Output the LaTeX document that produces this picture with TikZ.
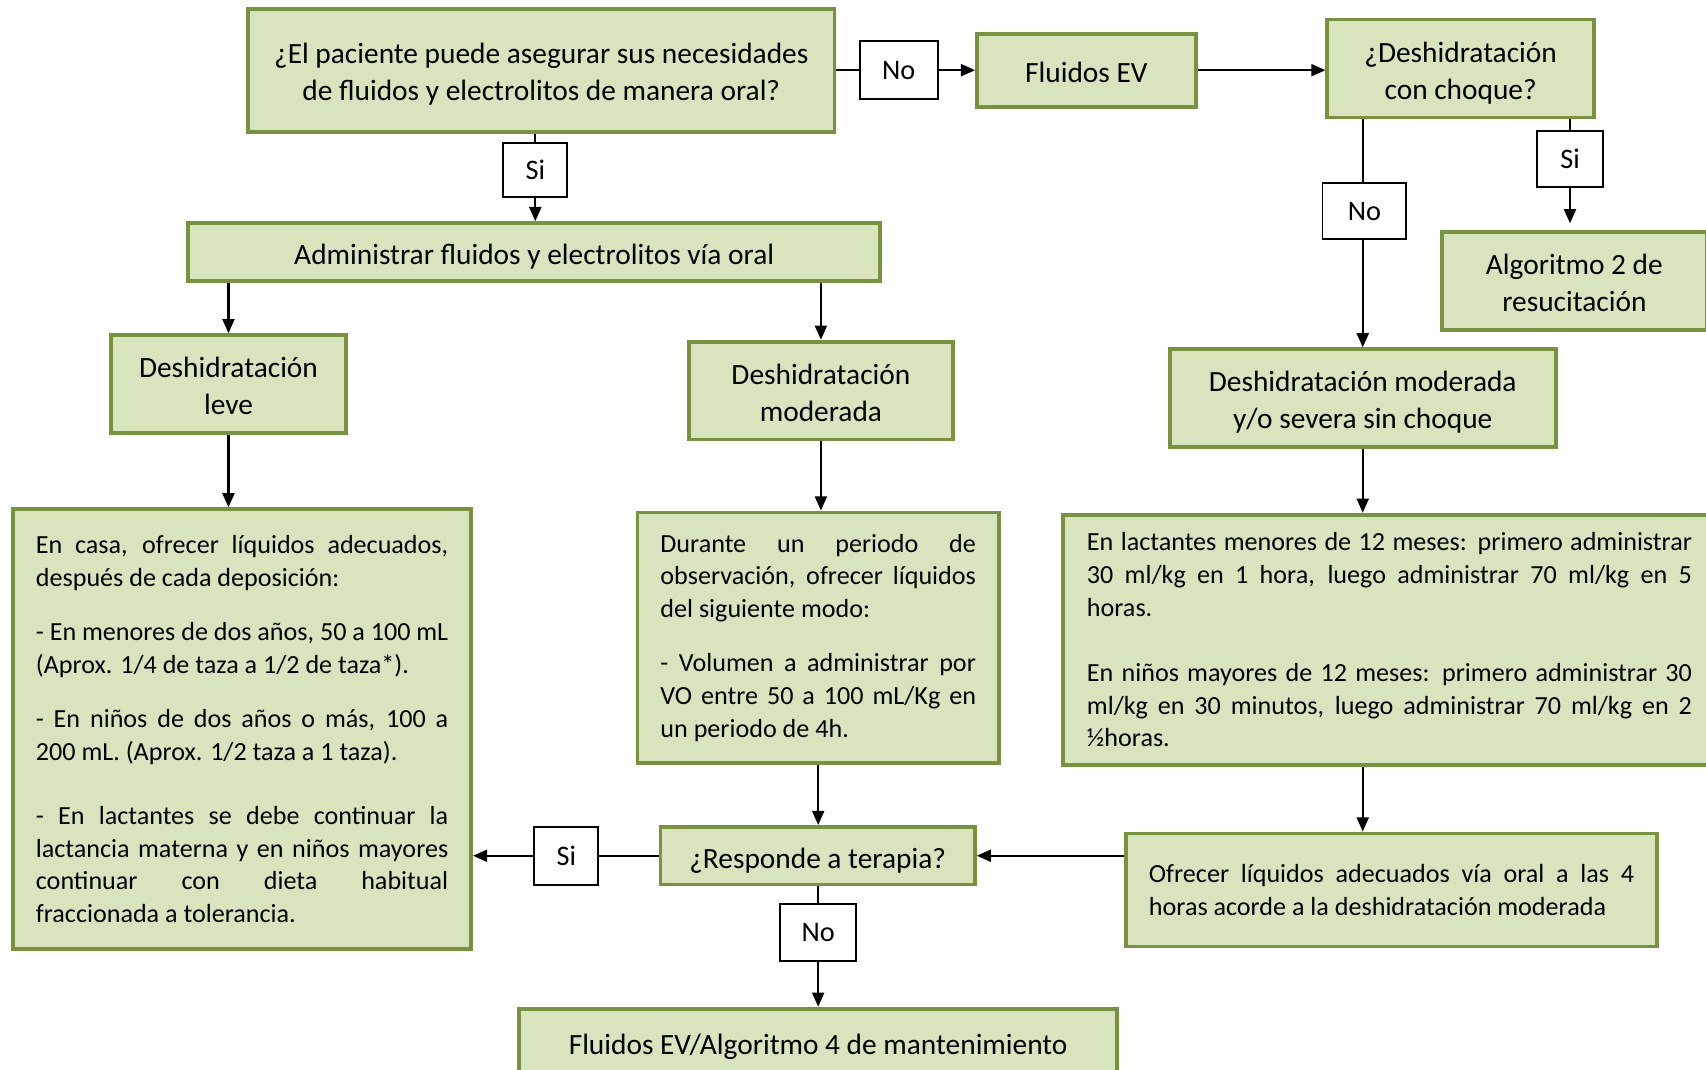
\documentclass[tikz,border=0pt]{standalone}
\usepackage{fontspec}
\setmainfont{Carlito}
\usetikzlibrary{arrows.meta}
\definecolor{gfill}{HTML}{D7E4BD}
\definecolor{gborder}{HTML}{77933C}
\hyphenpenalty=10000
\exhyphenpenalty=10000
\tolerance=10000
\begin{document}
\begin{tikzpicture}[x=1pt,y=-1pt,
  gbox/.style={draw=gborder, fill=gfill, line width=3.5pt, inner sep=0pt,
    font=\fontsize{27}{34}\selectfont, align=center},
  gone/.style={gbox, text height=28pt, text depth=5pt},
  gtwo/.style={gbox, text height=60pt, text depth=4pt},
  body/.style={draw=gborder, fill=gfill, line width=3.5pt, inner ysep=0pt,
    font=\fontsize{24}{30}\selectfont, align=justify},
  lbl/.style={draw=black, fill=white, line width=1.8pt, inner sep=0pt,
    font=\fontsize{26}{30}\selectfont},
  ln/.style={line width=2pt},
  arr/.style={line width=2pt, -{Triangle[length=13pt,width=11pt]}}]
\useasboundingbox[fill=white] (0,0) rectangle (1568,983);

% top row
\node[gtwo, minimum width=539pt, minimum height=113pt] (q1) at (497.5,64.5)
  {¿El paciente puede asegurar sus necesidades\\de fluidos y electrolitos de manera oral?};
\node[lbl, minimum width=72pt, minimum height=53pt] (no1) at (826,64.5) {No};
\node[gone, minimum width=201pt, minimum height=67pt] (fev) at (998.5,64.5) {Fluidos EV};
\node[gtwo, minimum width=245pt, minimum height=90pt] (q2) at (1342.5,63) {¿Deshidratación\\con choque?};
\node[lbl, minimum width=77pt, minimum height=52pt] (no2) at (1254,194) {No};
\node[lbl, minimum width=61pt, minimum height=52pt] (si2) at (1443,146) {Si};
\node[gtwo, minimum width=244pt, minimum height=90pt] (alg2) at (1447,258) {Algoritmo 2 de\\resucitación};

% second row
\node[lbl, minimum width=59pt, minimum height=50pt] (si1) at (492,156) {Si};
\node[gone, minimum width=636pt, minimum height=53pt] (admin) at (491,231.5) {Administrar fluidos y electrolitos vía oral};
\node[gtwo, minimum width=216pt, minimum height=90pt] (leve) at (210,353) {Deshidratación\\leve};
\node[gtwo, minimum width=243pt, minimum height=90pt] (mod) at (754.5,359) {Deshidratación\\moderada};
\node[gtwo, minimum width=355pt, minimum height=90pt] (modsev) at (1252.5,366) {Deshidratación moderada\\y/o severa sin choque};

% body boxes
\node[body, text width=379pt, inner xsep=21pt, minimum height=404pt] (lbody) at (222.5,670)
  {En casa, ofrecer líquidos adecuados,\linebreak después de cada deposición:\par\vspace{20pt}
   - En menores de dos años, 50 a 100 mL\linebreak (Aprox. 1/4 de taza a 1/2 de taza*).\par\vspace{20pt}
   - En niños de dos años o más, 100 a\linebreak 200 mL. (Aprox. 1/2 taza a 1 taza).\par\vspace{29pt}
   - En lactantes se debe continuar la\linebreak lactancia materna y en niños mayores\linebreak continuar con dieta habitual\linebreak fraccionada a tolerancia.};
\node[body, text width=290pt, inner xsep=21pt, minimum height=230pt] (mbody) at (752,586)
  {Durante un periodo de\linebreak observación, ofrecer líquidos\linebreak del siguiente modo:\par\vspace{20pt}
   - Volumen a administrar por\linebreak VO entre 50 a 100 mL/Kg en\linebreak un periodo de 4h.};
\node[body, text width=556pt, inner xsep=22pt, minimum height=230pt] (rbody) at (1277,588)
  {En lactantes menores de 12 meses: primero administrar\linebreak 30 ml/kg en 1 hora, luego administrar 70 ml/kg en 5\linebreak horas.\par\vspace{30pt}
   En niños mayores de 12 meses: primero administrar 30\linebreak ml/kg en 30 minutos, luego administrar 70 ml/kg en 2\linebreak ½horas.};

% bottom area
\node[gone, minimum width=289pt, minimum height=53pt] (resp) at (751.5,786.5) {¿Responde a terapia?};
\node[lbl, minimum width=59pt, minimum height=53pt] (si3) at (520.5,786.5) {Si};
\node[lbl, minimum width=70pt, minimum height=52pt] (no3) at (752,857) {No};
\node[gone, minimum width=550pt, minimum height=62pt] (final) at (752,958) {Fluidos EV/Algoritmo 4 de mantenimiento};
\node[body, text width=446pt, inner xsep=21pt, minimum height=104pt] (ofr) at (1279,818)
  {Ofrecer líquidos adecuados vía oral a las 4\linebreak horas acorde a la deshidratación moderada};

% connectors
\draw[ln] (q1.east) -- (q1.east -| no1.west);
\draw[arr] (no1.east) -- (no1.east -| fev.west);
\draw[arr] (fev.east) -- (fev.east -| q2.west);
\draw[ln] (q2.south -| modsev.north) -- (no2.north -| modsev.north);
\draw[arr] (no2.south -| modsev.north) -- (modsev.north);
\draw[ln] (q2.south -| si2.north) -- (si2.north);
\draw[arr] (si2.south) -- ([yshift=6pt]si2.south |- alg2.north);
\draw[ln] (q1.south -| si1.north) -- (si1.north);
\draw[arr] (si1.south) -- (si1.south |- admin.north);
\draw[arr] (admin.south -| leve.north) -- (leve.north);
\draw[arr] (admin.south -| mod.north) -- (mod.north);
\draw[arr] (leve.south) -- (leve.south |- lbody.north);
\draw[arr] (mod.south) -- (mod.south |- mbody.north);
\draw[arr] (modsev.south) -- (modsev.south |- rbody.north);
\draw[arr] (mbody.south) -- (mbody.south |- resp.north);
\draw[ln] (resp.west) -- (resp.west -| si3.east);
\draw[arr] (si3.west) -- (si3.west -| lbody.east);
\draw[ln] (resp.south -| no3.north) -- (no3.north);
\draw[arr] (no3.south) -- (no3.south |- final.north);
\draw[arr] (modsev.south |- rbody.south) -- (modsev.south |- ofr.north);
\draw[arr] (ofr.west |- resp.east) -- (resp.east);
\end{tikzpicture}
\end{document}
